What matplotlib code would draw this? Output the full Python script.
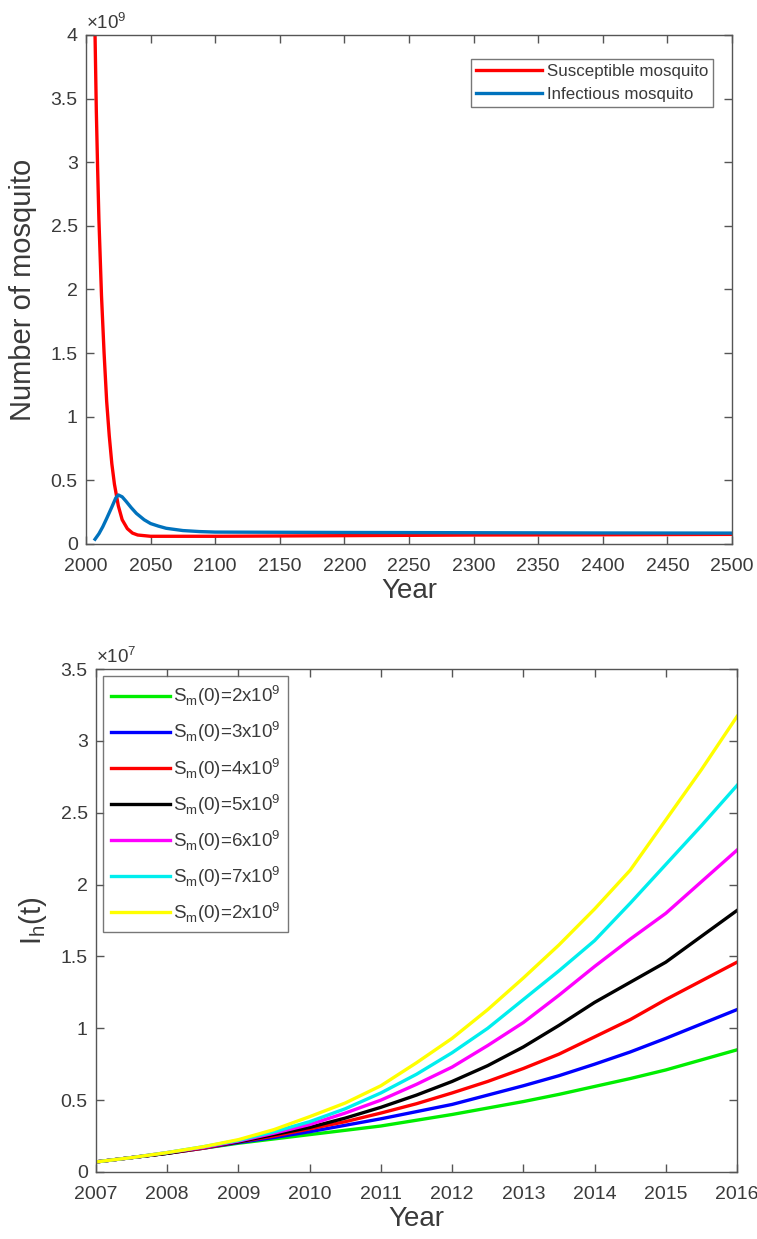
import matplotlib
matplotlib.use("Agg")
import matplotlib.pyplot as plt
from matplotlib.ticker import FuncFormatter, MultipleLocator

plt.rcParams['font.family'] = ['Liberation Sans', 'DejaVu Sans']
plt.rcParams['mathtext.fontset'] = 'custom'
plt.rcParams['mathtext.rm'] = 'Liberation Sans'

# ---------------- Data: top panel (values in units of 1e9) ----------------
years_s = [2007, 2008, 2009, 2010, 2012, 2014, 2016, 2018, 2020, 2022, 2025,
           2028, 2032, 2036, 2040, 2050, 2100, 2200, 2300, 2400, 2500]
susceptible = [4.0, 3.4, 2.95, 2.55, 1.95, 1.5, 1.12, 0.85, 0.63, 0.47, 0.30,
               0.19, 0.12, 0.085, 0.07, 0.06, 0.06, 0.065, 0.07, 0.072, 0.075]
years_i = [2007, 2010, 2013, 2016, 2020, 2023, 2025, 2028, 2031, 2035, 2039,
           2045, 2050, 2056, 2062, 2075, 2088, 2100, 2200, 2300, 2400, 2500]
infectious = [0.037, 0.08, 0.135, 0.2, 0.29, 0.36, 0.385, 0.37, 0.335, 0.285,
              0.24, 0.19, 0.16, 0.14, 0.123, 0.105, 0.097, 0.093, 0.09, 0.088,
              0.086, 0.085]

# ---------------- Data: bottom panel (values in units of 1e7) --------------
years_b = [2007, 2007.5, 2008, 2008.5, 2009, 2009.5, 2010, 2010.5, 2011, 2011.5,
           2012, 2012.5, 2013, 2013.5, 2014, 2014.5, 2015, 2015.5, 2016]
ih_2e9 = [0.07, 0.10, 0.13, 0.165, 0.20, 0.23, 0.26, 0.29, 0.32, 0.36, 0.40,
          0.445, 0.49, 0.54, 0.595, 0.65, 0.71, 0.78, 0.85]
ih_3e9 = [0.07, 0.10, 0.13, 0.165, 0.205, 0.24, 0.28, 0.325, 0.37, 0.42, 0.47,
          0.535, 0.60, 0.67, 0.75, 0.835, 0.93, 1.03, 1.13]
ih_4e9 = [0.07, 0.10, 0.13, 0.165, 0.21, 0.25, 0.30, 0.35, 0.41, 0.475, 0.55,
          0.63, 0.72, 0.82, 0.94, 1.06, 1.20, 1.33, 1.46]
ih_5e9 = [0.07, 0.10, 0.13, 0.17, 0.21, 0.26, 0.31, 0.375, 0.45, 0.535, 0.63,
          0.74, 0.87, 1.02, 1.18, 1.32, 1.46, 1.64, 1.82]
ih_6e9 = [0.07, 0.10, 0.135, 0.17, 0.215, 0.27, 0.33, 0.41, 0.50, 0.61, 0.73,
          0.88, 1.04, 1.23, 1.43, 1.62, 1.80, 2.02, 2.24]
ih_7e9 = [0.07, 0.10, 0.135, 0.175, 0.22, 0.28, 0.35, 0.44, 0.55, 0.68, 0.83,
          1.00, 1.20, 1.40, 1.61, 1.87, 2.14, 2.41, 2.69]
ih_last = [0.07, 0.10, 0.135, 0.175, 0.225, 0.295, 0.385, 0.48, 0.60, 0.76,
           0.93, 1.13, 1.35, 1.58, 1.83, 2.10, 2.45, 2.80, 3.17]
series_b = [ih_2e9, ih_3e9, ih_4e9, ih_5e9, ih_6e9, ih_7e9, ih_last]
labels_b = ['S$_\\mathregular{m}$(0)=2x10$^\\mathregular{9}$',
            'S$_\\mathregular{m}$(0)=3x10$^\\mathregular{9}$',
            'S$_\\mathregular{m}$(0)=4x10$^\\mathregular{9}$',
            'S$_\\mathregular{m}$(0)=5x10$^\\mathregular{9}$',
            'S$_\\mathregular{m}$(0)=6x10$^\\mathregular{9}$',
            'S$_\\mathregular{m}$(0)=7x10$^\\mathregular{9}$',
            'S$_\\mathregular{m}$(0)=2x10$^\\mathregular{9}$']
colors_b = ['#00ee00', '#0000ff', '#ff0000', '#000000', '#ff00ff', '#00eeee', '#ffff00']

TXT = '#3a3a3a'
AX = '#555555'

fig = plt.figure(figsize=(7.57, 12.39), dpi=100)

def style(ax):
    for s in ax.spines.values():
        s.set_color(AX)
        s.set_linewidth(1.0)
    ax.tick_params(direction='in', length=6, width=1, color=AX,
                   labelcolor=TXT, labelsize=14, top=True, right=True)
    ax.tick_params(axis='x', pad=10)
    ax.tick_params(axis='y', pad=6)

fmt = FuncFormatter(lambda v, p: '%g' % v)

# ---------------- Top panel ----------------
ax1 = fig.add_axes([0.1136, 0.561, 0.8534, 0.4108])
ax1.plot(years_s, susceptible, color='#ff0000', lw=2.4, label='Susceptible mosquito')
ax1.plot(years_i, infectious, color='#0072BD', lw=2.4, label='Infectious mosquito')
ax1.set_xlim(2000, 2500)
ax1.set_ylim(0, 4)
ax1.xaxis.set_major_locator(MultipleLocator(50))
ax1.yaxis.set_major_locator(MultipleLocator(0.5))
ax1.yaxis.set_major_formatter(fmt)
style(ax1)
ax1.set_xlabel('Year', fontsize=20, color=TXT, labelpad=2)
ax1.set_ylabel('Number of mosquito', fontsize=21, color=TXT, labelpad=10)
ax1.text(0.0, 1.004, '×10$^\\mathregular{9}$', transform=ax1.transAxes,
         fontsize=13.5, color=TXT, ha='left', va='bottom')
leg1 = ax1.legend(loc='upper right', bbox_to_anchor=(0.971, 0.953), fontsize=12.2,
                  handlelength=3.9, frameon=True, fancybox=False,
                  borderpad=0.3, labelspacing=0.45, handletextpad=0.3,
                  borderaxespad=0)
leg1.get_frame().set_edgecolor(AX)
leg1.get_frame().set_linewidth(1.0)
for t in leg1.get_texts():
    t.set_color(TXT)

# ---------------- Bottom panel ----------------
ax2 = fig.add_axes([0.1268, 0.0541, 0.8468, 0.4059])
for vals, col, lab in zip(series_b, colors_b, labels_b):
    ax2.plot(years_b, vals, color=col, lw=2.4, label=lab)
ax2.set_xlim(2007, 2016)
ax2.set_ylim(0, 3.5)
ax2.xaxis.set_major_locator(MultipleLocator(1))
ax2.yaxis.set_major_locator(MultipleLocator(0.5))
ax2.yaxis.set_major_formatter(fmt)
style(ax2)
ax2.set_xlabel('Year', fontsize=20, color=TXT, labelpad=2)
ax2.set_ylabel('I$_\\mathregular{h}$(t)', fontsize=21, color=TXT, labelpad=8)
ax2.text(0.0, 1.004, '×10$^\\mathregular{7}$', transform=ax2.transAxes,
         fontsize=13.5, color=TXT, ha='left', va='bottom')
leg2 = ax2.legend(loc='upper left', bbox_to_anchor=(0.011, 0.986), fontsize=13.5,
                  handlelength=3.15, frameon=True, fancybox=False,
                  borderpad=0.4, labelspacing=0.6, handletextpad=0.2,
                  borderaxespad=0)
leg2.get_frame().set_edgecolor(AX)
leg2.get_frame().set_linewidth(1.0)
for t in leg2.get_texts():
    t.set_color(TXT)

fig.savefig('out.png', dpi=100)
